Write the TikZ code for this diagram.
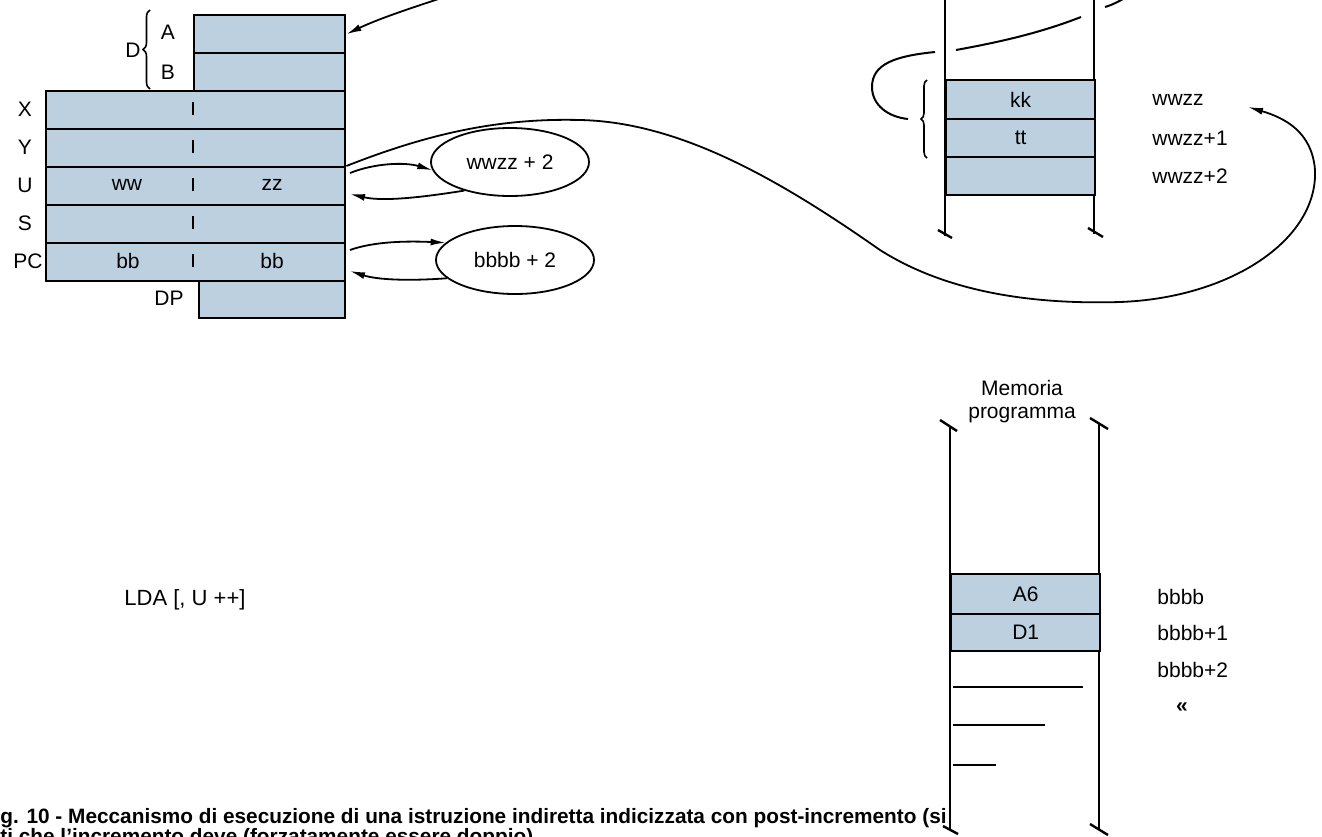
\documentclass[tikz,border=0pt]{standalone}
\usepackage{xcolor}
\usepackage{fontspec}
\setmainfont{Liberation Sans}
\usetikzlibrary{positioning,shapes.geometric,arrows.meta,calc,decorations.pathreplacing}
\definecolor{regblue}{RGB}{188,208,224}

\begin{document}
\begin{tikzpicture}[x=0.5pt,y=-0.5pt,
    reg/.style={draw,fill=regblue,line width=1.2pt,anchor=north west,minimum height=19pt,inner sep=0pt,font=\fontsize{10.5}{12}\selectfont},
    lbl/.style={inner sep=0pt,font=\fontsize{10.5}{12}\selectfont},
    addr/.style={lbl,anchor=west},
    wall/.style={line width=1.2pt},
    arr/.style={line width=0.9pt,-{Latex[length=7.5pt,width=3.5pt]}},
    oval/.style={draw,ellipse,line width=0.9pt,minimum width=79pt,minimum height=34pt,font=\fontsize{10.5}{12}\selectfont},
    captxt/.style={inner sep=0pt,anchor=base west,font=\bfseries\fontsize{10.4}{12}\selectfont}]
    \useasboundingbox (0,0) rectangle (1322,836);
    \clip (0,0) rectangle (1322,836);

    % Registers
    \node[reg,minimum width=75.5pt] (A) at (193,14) {};
    \node[reg,minimum width=75.5pt] (B) at (193,52) {};
    \node[reg,minimum width=149.5pt] (X) at (45,90) {};
    \node[reg,minimum width=149.5pt] (Y) at (45,128) {};
    \node[reg,minimum width=149.5pt] (U) at (45,166) {};
    \node[reg,minimum width=149.5pt] (S) at (45,204) {};
    \node[reg,minimum width=149.5pt] (PC) at (45,242) {};
    \node[reg,minimum width=73pt,minimum height=18.5pt] (DP) at (198,280) {};
    \foreach \y in {109,147,185,223,261}
        \draw[line width=1.3pt] (193,\y-7) -- (193,\y+6);

    \node[lbl] (lA) at (168,32) {A};
    \node[lbl] (lB) at (168,72) {B};
    \node[lbl] (lD) at (133,50) {D};
    \draw[line width=0.8pt,decorate,decoration={brace,amplitude=3.5pt}] (150,89) -- (150,10);
    \node[lbl] (lX) at (25,109) {X};
    \node[lbl] (lY) at (25,147) {Y};
    \node[lbl] (lU) at (25,185) {U};
    \node[lbl] (lS) at (25,223) {S};
    \node[lbl] (lPC) at (28,261) {PC};
    \node[lbl] (lDP) at (169,298) {DP};
    \node[lbl] (ww) at (127,185) {ww};
    \node[lbl] (zz) at (272,185) {zz};
    \node[lbl] (bbh) at (128,261) {bb};
    \node[lbl] (bbl) at (272,261) {bb};

    % Incrementers
    \node[oval] (w1) at (510,162) {wwzz + 2};
    \node[oval] (b1) at (515,260) {bbbb + 2};
    \coordinate (Uo) at (350,173);
    \coordinate (Ui) at (350,194);
    \coordinate (Po) at (350,250);
    \coordinate (Pi) at (350,271);
    \draw[arr] (Uo) .. controls (375,163) and (405,162) .. (w1.186);
    \draw[arr] (w1.212) .. controls (412,199) and (380,201) .. (Ui);
    \draw[arr] (Po) .. controls (375,241) and (410,241) .. (b1.166);
    \draw[arr] (b1.195) .. controls (410,281) and (378,280) .. (Pi);

    % Data memory
    \draw[wall] (945,-2) -- (945,236);
    \draw[wall] (938,230) -- (952,238);
    \draw[wall] (1094,-2) -- (1094,234);
    \draw[wall] (1088,228) -- (1103,237);
    \node[reg,minimum width=74.5pt,minimum height=19.5pt] (kk) at (945,79) {kk};
    \node[reg,minimum width=74.5pt,minimum height=19pt] (tt) at (945,118) {tt};
    \node[reg,minimum width=74.5pt,minimum height=19pt] (m3) at (945,156) {};
    \node[addr] (wz0) at (1152,100) {wwzz};
    \node[addr] (wz1) at (1152,138) {wwzz+1};
    \node[addr] (wz2) at (1152,176) {wwzz+2};
    \draw[line width=1pt] (1128,-4) .. controls (1120,1) and (1112,5) .. (1105,7);
    \draw[line width=1pt] (1081,17) .. controls (1040,33) and (1000,42) .. (956,50);
    \draw[line width=1pt] (935,52) .. controls (895,56) and (872,64) .. (872,87)
        .. controls (872,105) and (888,117) .. (908,119);
    \draw[line width=0.8pt,decorate,decoration={brace,amplitude=3pt}] (927,158) -- (927,80);

    % Program memory
    \node[lbl,align=center,font=\fontsize{10.5}{11.5}\selectfont] (mem) at (1022,402) {Memoria\\programma};
    \draw[wall] (950,426) -- (950,830);
    \draw[wall] (940,420) -- (957,431);
    \draw[wall] (943,826) -- (958,834);
    \draw[wall] (1099,424) -- (1099,830);
    \draw[wall] (1090,418) -- (1108,429);
    \draw[wall] (1090,824) -- (1108,835);
    \node[reg,minimum width=74.5pt,minimum height=20pt] (A6) at (950,573) {A6};
    \node[reg,minimum width=74.5pt,minimum height=18.5pt] (D1) at (950,613) {D1};
    \draw[line width=1.1pt] (953,687) -- (1083,687);
    \draw[line width=1.1pt] (953,725) -- (1045,725);
    \draw[line width=1.1pt] (953,765) -- (996,765);
    \node[addr] (bb0) at (1157,597) {bbbb};
    \node[addr] (bb1) at (1157,633) {bbbb+1};
    \node[addr] (bb2) at (1157,670) {bbbb+2};
    \node[lbl,font=\bfseries\fontsize{10.5}{12}\selectfont] (dots) at (1182,708) {«};

    % Pointers
    \coordinate (far) at (460,-8);
    \draw[arr] (far) .. controls (420,5) and (380,18) .. (A.east);
    \coordinate (wzend) at (1248,107);
    \draw[arr] (U.north east) .. controls (430,133) and (500,118) .. (580,120)
        .. controls (680,122) and (780,180) .. (880,250)
        .. controls (940,288) and (1020,305) .. (1120,302)
        .. controls (1230,298) and (1318,240) .. (1315,170)
        .. controls (1312,132) and (1285,118) .. (wzend);

    \node[lbl,font=\fontsize{11}{13}\selectfont] (instr) at (185,600) {LDA [, U ++]};

    % Caption
    \node[captxt] (cap1) at (0,823) {g. 10 - Meccanismo di esecuzione di una istruzione indiretta indicizzata con post-incremento (si};
    \node[captxt] (cap2) at (0,843) {ti che l'incremento deve (forzatamente essere doppio)};
\end{tikzpicture}
\end{document}
